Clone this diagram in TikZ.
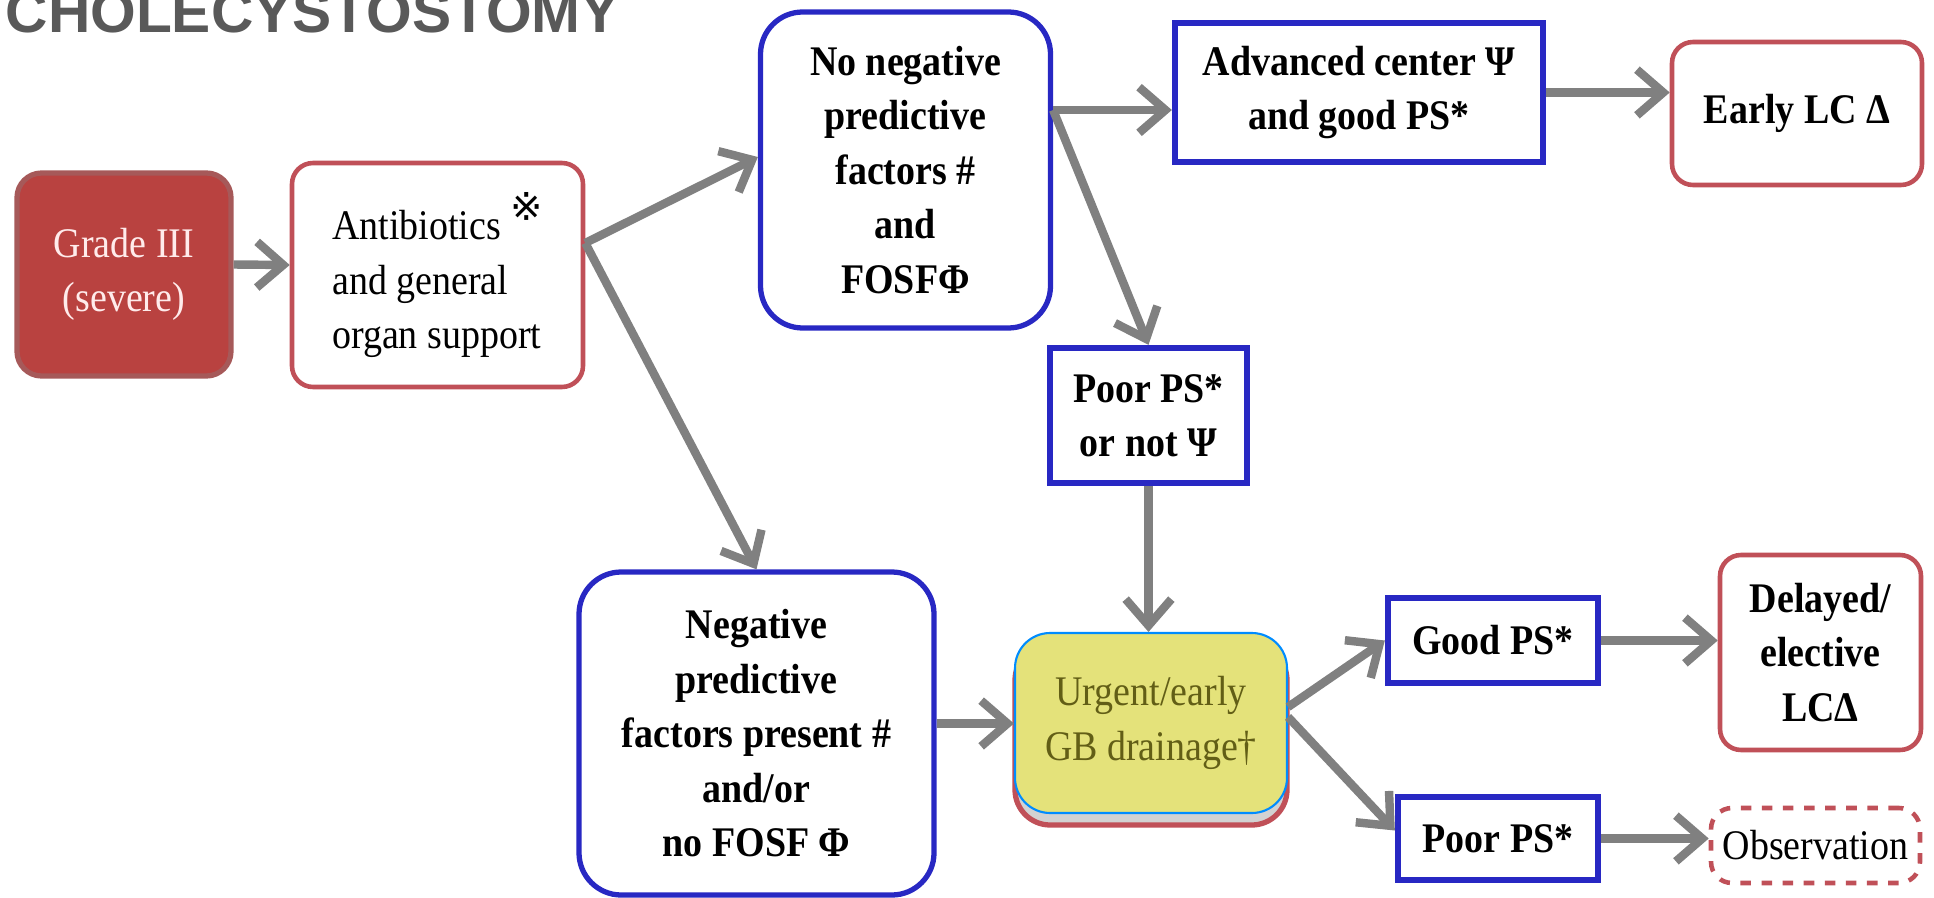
\documentclass[tikz,border=0pt]{standalone}
\usepackage{fontspec}
\setmainfont[FakeStretch=0.9]{Liberation Serif}
\setsansfont{Liberation Sans}
\newfontfamily\symfont{DejaVu Sans}
\usetikzlibrary{arrows.meta}

\definecolor{boxred}{RGB}{192,80,88}
\definecolor{boxblue}{RGB}{40,40,195}
\definecolor{arrgray}{RGB}{128,128,128}
\definecolor{gradered}{RGB}{185,66,64}
\definecolor{drainyellow}{RGB}{228,226,122}
\definecolor{drainolive}{RGB}{98,94,22}
\definecolor{titlegray}{RGB}{89,89,89}

\tikzset{
  box/.style={inner sep=0pt, align=center, font=\fontsize{12}{15.5}\selectfont},
  redbox/.style={box, draw=boxred, fill=white, line width=1.3pt, rounded corners=6pt},
  bluebox/.style={box, draw=boxblue, fill=white, line width=1.5pt, rounded corners=12pt, font=\bfseries\fontsize{12}{15.5}\selectfont},
  bluerect/.style={box, draw=boxblue, fill=white, line width=1.8pt, font=\bfseries\fontsize{12}{15.5}\selectfont},
  arr/.style={draw=arrgray, line width=2.4pt, -{Straight Barb[length=7.5pt,width=13pt]}},
}

\begin{document}
\begin{tikzpicture}
\useasboundingbox (0,0) rectangle (19.34,-8.98);

\node[font=\sffamily\bfseries\fontsize{16.7}{20}\selectfont, text=titlegray, anchor=base west, inner sep=0pt] (title) at (0.05,-0.33) {CHOLECYSTOSTOMY};

%左
\node[box, fill=gradered, draw=gray!70!red, line width=1.5pt, rounded corners=7pt, text=red!8!white, minimum width=2.14cm, minimum height=2.03cm] (grade) at (1.24,-2.745) {Grade III\\(severe)};
\node[redbox, align=left, minimum width=2.91cm, minimum height=2.24cm] (anti) at (4.375,-2.75) {Antibiotics \raisebox{5.5pt}{\symfont\fontsize{11}{11}\selectfont ※}\\and general\\organ support};

%上段
\node[bluebox, minimum width=2.90cm, minimum height=3.16cm] (noneg) at (9.055,-1.70) {No negative\\predictive\\factors \#\\and\\FOSFΦ};
\node[bluerect, minimum width=3.68cm, minimum height=1.39cm] (adv) at (13.59,-0.925) {Advanced center Ψ\\and good PS*};
\node[redbox, font=\bfseries\fontsize{12}{15.5}\selectfont, minimum width=2.50cm, minimum height=1.43cm] (early) at (17.97,-1.135) {Early LC Δ};
\node[bluerect, minimum width=1.97cm, minimum height=1.35cm] (poorpsi) at (11.485,-4.155) {Poor PS*\\or not Ψ};

%下段
\node[bluebox, minimum width=3.55cm, minimum height=3.23cm] (neg) at (7.565,-7.335) {Negative\\predictive\\factors present \#\\and/or\\no FOSF Φ};
\node[box, fill=drainyellow, draw=blue!45!cyan, line width=0.6pt, rounded corners=10pt, text=drainolive, minimum width=2.72cm, minimum height=1.80cm,
  preaction={draw=boxred, fill=gray!35, line width=1.5pt, transform canvas={yshift=-1.2mm}}] (urgent) at (11.51,-7.23) {Urgent/early\\GB drainage†};
\node[bluerect, minimum width=2.10cm, minimum height=0.85cm] (good) at (14.93,-6.405) {Good PS*};
\node[redbox, font=\bfseries\fontsize{12}{15.5}\selectfont, minimum width=2.01cm, minimum height=1.95cm] (delayed) at (18.205,-6.525) {Delayed/\\elective\\LCΔ};
\node[bluerect, minimum width=2.00cm, minimum height=0.83cm] (poor) at (14.98,-8.385) {Poor PS*};
\node[redbox, dashed, minimum width=2.09cm, minimum height=0.75cm] (obs) at (18.155,-8.455) {Observation};

\coordinate (aout) at ([yshift=3.2mm]anti.east); %分岐
\coordinate (nout) at ([yshift=6mm]noneg.east);
\coordinate (uup) at ([yshift=1.6mm]urgent.east);
\coordinate (udown) at ([yshift=0.6mm]urgent.east);

\draw[arr] ([yshift=1mm]grade.east) -- ([yshift=1mm]anti.west);
\draw[arr] (aout) -- ([yshift=1.3mm]noneg.west);
\draw[arr] (aout) -- (neg.north);
\draw[arr] (nout) -- (nout -| adv.west);
\draw[arr] (nout) -- (poorpsi.north);
\draw[arr] (adv.east) -- (adv.east -| early.west);
\draw[arr] (poorpsi.south) -- (poorpsi.south |- urgent.north);
\draw[arr] ([yshift=1mm]neg.east) -- ([yshift=1mm]neg.east -| urgent.west);
\draw[arr] (uup) -- (good.west);
\draw[arr] (udown) -- ([yshift=0.8mm]poor.west);
\draw[arr] (good.east) -- (good.east -| delayed.west);
\draw[arr] (poor.east) -- (poor.east -| obs.west);

\end{tikzpicture}
\end{document}
